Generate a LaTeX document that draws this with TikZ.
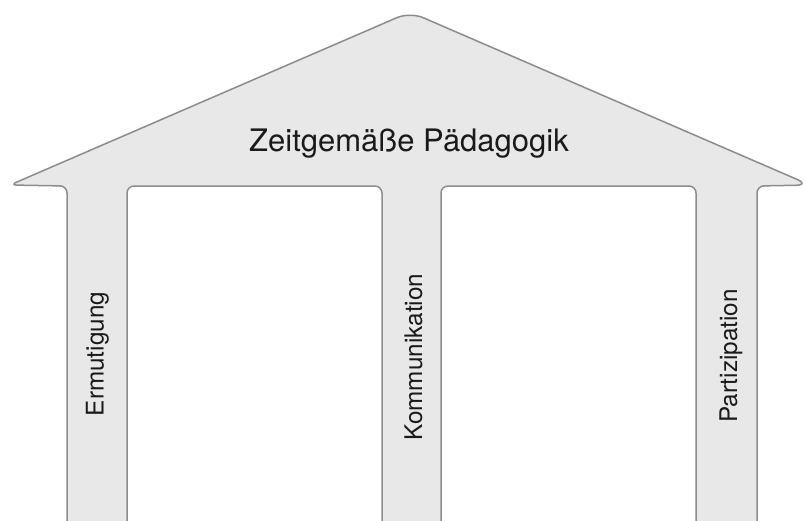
\documentclass[tikz,border=0pt]{standalone}
\usepackage{fontspec}
\setmainfont{TeX Gyre Heros}
\definecolor{housefill}{HTML}{E8E8E8}
\definecolor{houseline}{HTML}{8C8C8C}
\definecolor{txt}{HTML}{1A1A1A}
\begin{document}
\begin{tikzpicture}[x=1pt,y=-1pt,
  house/.style={fill=housefill,draw=houseline,line width=1.5pt,rounded corners=7pt,line join=round},
  title/.style={text=txt,font=\fontsize{31}{37}\selectfont,anchor=base,inner sep=0pt},
  pillarlabel/.style={text=txt,font=\fontsize{24.3}{29}\selectfont,rotate=90,anchor=base,inner sep=0pt}]
\useasboundingbox (0,0) rectangle (806,520);
\begin{scope}
\clip (0,0) rectangle (806,520);
\draw[house] (10,185) [rounded corners=14pt] -- (410,12) -- (810,185) [rounded corners=7pt] -- (757,186) -- (757,540)
  -- (696,540) -- (696,186) -- (441,186) -- (441,540) -- (382,540)
  -- (382,186) -- (127,186) -- (127,540) -- (67,540) -- (67,186) -- cycle;
\end{scope}
\node[title] (t) at (409,151) {Zeitgemäße Pädagogik};
\node[pillarlabel] (e) at (103.5,354) {Ermutigung};
\node[pillarlabel] (k) at (422,357) {Kommunikation};
\node[pillarlabel] (p) at (737,356) {Partizipation};
\end{tikzpicture}
\end{document}
